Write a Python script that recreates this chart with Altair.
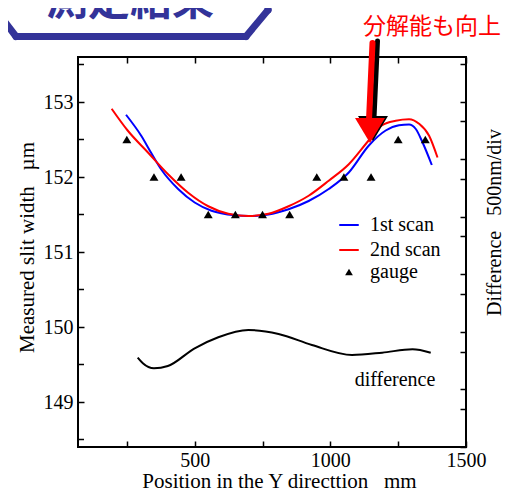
import altair as alt
import pandas as pd

# ---------------- data ----------------
blue_x = [247, 303, 340, 377, 439, 500, 562, 648, 698, 772, 846, 920, 994, 1068, 1142, 1204, 1253, 1290, 1315, 1340, 1374]
blue_y = [152.83, 152.55, 152.32, 152.10, 151.84, 151.66, 151.55, 151.49, 151.48, 151.50, 151.57, 151.68, 151.84, 152.06,
          152.42, 152.62, 152.69, 152.70, 152.64, 152.46, 152.16]
red_x = [194, 253, 327, 401, 476, 550, 624, 698, 772, 846, 920, 994, 1068, 1142, 1191, 1241, 1290, 1327, 1364, 1395]
red_y = [152.91, 152.62, 152.33, 152.04, 151.79, 151.61, 151.51, 151.48, 151.51, 151.61, 151.75, 151.95, 152.17, 152.49,
         152.69, 152.75, 152.77, 152.71, 152.55, 152.26]
gauge_x = [250, 350, 450, 550, 650, 750, 850, 950, 1050, 1150, 1250, 1350]
gauge_y = [152.5, 152.0, 152.0, 151.5, 151.5, 151.5, 151.5, 152.0, 152.0, 152.0, 152.5, 152.5]
diff_x = [290, 309, 350, 401, 500, 587, 698, 809, 932, 1080, 1191, 1303, 1370]
diff_nm = [777, 728, 684, 704, 858, 954, 1017, 983, 887, 800, 820, 850, 820]

series_names = ["1st scan", "2nd scan"]
series_colors = ["#0000ff", "#ff0000"]
legend_labels = ["1st scan", "2nd scan", "gauge"]

x_ticks = [250, 500, 750, 1000, 1250, 1500]
y_ticks = [149, 150, 151, 152, 153]
y_minor = [148.5, 149.5, 150.5, 151.5, 152.5, 153.5]
r_ticks = [0, 330, 500, 830, 1000, 1330, 1500, 1830, 2000, 2330, 2500, 2830, 3000, 3330]

header_text = "測定結果"
note_text = "分解能も向上"
diff_label = "difference"
x_title = "Position in the Y directtion\u00a0\u00a0\u00a0mm"
y_title = "Measured slit width\u00a0\u00a0\u00a0µm"
r_title = "Difference\u00a0\u00a0\u00a0500nm/div"

SERIF = "Liberation Serif, Times New Roman, Times, serif"
CJK = "Noto Sans CJK JP"
NAVY = "#333399"

scans = pd.DataFrame(
    {"x": blue_x + red_x,
     "y": blue_y + red_y,
     "series": [series_names[0]] * len(blue_x) + [series_names[1]] * len(red_x)}
)
gauge = pd.DataFrame({"x": gauge_x, "y": gauge_y})
diff = pd.DataFrame({"x": diff_x, "nm": diff_nm})
minor = pd.DataFrame({"v": y_minor})

x_scale = alt.Scale(domain=[70, 1500], nice=False, zero=False)
y_scale = alt.Scale(domain=[148.4, 153.6], nice=False, zero=False)
r_scale = alt.Scale(domain=[0, 3390], nice=False, zero=False)

tick_common = dict(offset=-6, tickSize=6, tickWidth=1.5, tickColor="black", domain=False, grid=False)

bottom_axis = alt.Axis(
    orient="bottom", values=x_ticks, format="d",
    labelExpr="datum.value % 500 == 0 ? datum.label : ''",
    labelFont=SERIF, labelFontSize=20, labelColor="black", labelPadding=3,
    labelFlush=False, labelOverlap=False,
    title=x_title, titleFont=SERIF, titleFontSize=21, titleFontWeight="normal", titleColor="black",
    titleX=201, titleY=46, titleBaseline="alphabetic", titleAlign="center",
    **tick_common,
)
left_axis = alt.Axis(
    orient="left", values=y_ticks, format="d",
    labelFont=SERIF, labelFontSize=20, labelColor="black", labelPadding=5,
    labelFlush=False, labelOverlap=False,
    title=y_title, titleFont=SERIF, titleFontSize=21, titleFontWeight="normal", titleColor="black",
    titleAngle=270, titleX=-57, titleY=190, titleAlign="center", titleBaseline="middle",
    **tick_common,
)
top_axis = alt.Axis(orient="top", values=x_ticks, labels=False, title=None, **tick_common)
right_axis = alt.Axis(
    orient="right", values=r_ticks, labels=False,
    title=r_title, titleFont=SERIF, titleFontSize=20, titleFontWeight="normal", titleColor="black",
    titleAngle=270, titleX=34, titleY=165, titleAlign="center", titleBaseline="middle",
    **tick_common,
)

one = alt.Data(values=[{}])


def seg(x1, y1, x2, y2, color, w):
    return alt.Chart(one).mark_rule(color=color, strokeWidth=w, strokeCap="round").encode(
        x=alt.value(x1), y=alt.value(y1), x2=alt.value(x2), y2=alt.value(y2)
    )


def label(txt, x, y, size, color="black", font=SERIF, align="left", weight="normal", baseline="middle"):
    return alt.Chart(one).mark_text(
        text=txt, font=font, fontSize=size, color=color, align=align, fontWeight=weight, baseline=baseline
    ).encode(x=alt.value(x), y=alt.value(y))


lines = alt.Chart(scans).mark_line(strokeWidth=2, interpolate="monotone").encode(
    x=alt.X("x:Q", scale=x_scale, axis=bottom_axis),
    y=alt.Y("y:Q", scale=y_scale, axis=left_axis),
    color=alt.Color("series:N", scale=alt.Scale(domain=series_names, range=series_colors), legend=None),
)
points = alt.Chart(gauge).mark_point(shape="triangle-up", filled=True, color="black", size=80, opacity=1,
                                     strokeWidth=0).encode(
    x=alt.X("x:Q", scale=x_scale),
    y=alt.Y("y:Q", scale=y_scale),
)
minor_ticks = alt.Chart(minor).mark_tick(orient="horizontal", size=6, thickness=1.5, color="black",
                                         opacity=1).encode(
    x=alt.value(3),
    y=alt.Y("v:Q", scale=y_scale),
)

head_path = "M-1,-1L1,-1L0,0.667Z"
black_head = alt.Chart(one).mark_point(shape=head_path, filled=True, color="black", size=900, opacity=1,
                                       strokeWidth=0).encode(x=alt.value(295), y=alt.value(74))
red_head = alt.Chart(one).mark_point(shape=head_path, filled=True, color="#ff0000", size=900, opacity=1,
                                     strokeWidth=0).encode(x=alt.value(292), y=alt.value(76))

decor = [
    # legend
    seg(262, 168, 280, 168, series_colors[0], 2),
    seg(262, 193, 280, 193, series_colors[1], 2),
    alt.Chart(one).mark_point(shape="triangle-up", filled=True, color="black", size=60, opacity=1,
                              strokeWidth=0).encode(x=alt.value(271), y=alt.value(215)),
    label(legend_labels[0], 292, 168, 20),
    label(legend_labels[1], 292, 193, 20),
    label(legend_labels[2], 292, 215, 20),
    label(diff_label, 317, 323, 20, align="center"),
    # arrow
    seg(299.5, -16, 296, 61, "black", 5),
    black_head,
    seg(294.5, -14, 291, 63, "#ff0000", 6),
    red_head,
    label(note_text, 285, -30.5, 23, color="#ff0000", font=CJK),
    # header tab
    seg(-80, -44, -62, -20.5, NAVY, 7),
    seg(-62, -20.5, 168, -20.5, NAVY, 7),
    seg(168, -20.5, 190, -47, NAVY, 7),
    seg(190, -47, 190, -60, NAVY, 7),
    label(header_text, -32, -42, 42, color=NAVY, font=CJK, weight="bold", baseline="alphabetic"),
]

main = alt.layer(lines, points, minor_ticks, *decor)

diff_line = alt.Chart(diff).mark_line(color="black", strokeWidth=2, interpolate="monotone").encode(
    x=alt.X("x:Q", scale=x_scale, axis=top_axis),
    y=alt.Y("nm:Q", scale=r_scale, axis=right_axis),
)

chart = alt.layer(main, diff_line).resolve_scale(y="independent").resolve_axis(
    x="independent", y="independent"
).properties(
    width=388, height=390,
    autosize=alt.AutoSizeParams(type="none"),
    padding={"left": 70, "top": 49, "right": 38, "bottom": 45},
    background="white",
).configure_view(stroke="black", strokeWidth=2)

chart.save("out.html", embed_options={"renderer": "svg", "actions": False})
